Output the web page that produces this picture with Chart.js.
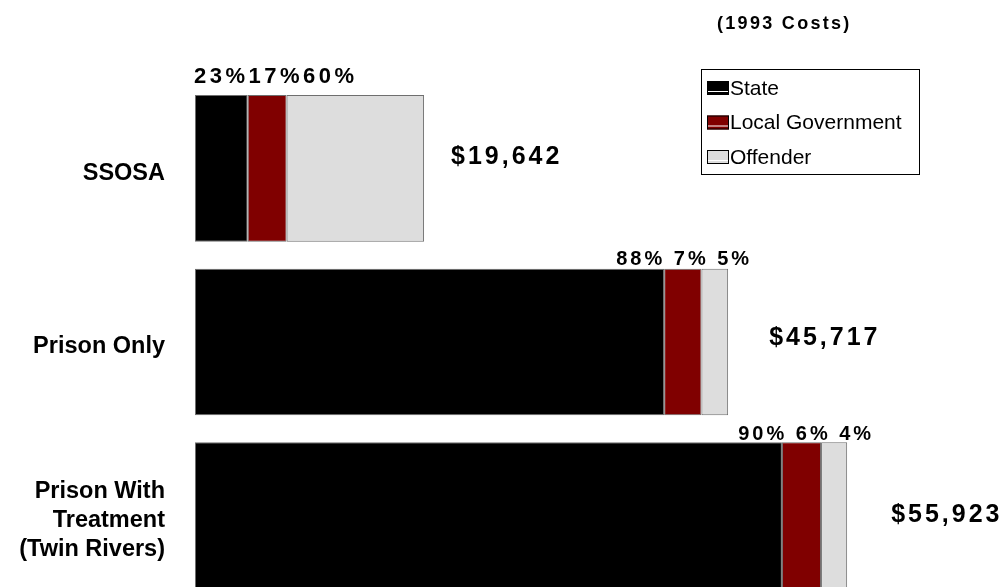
<!DOCTYPE html>
<html lang="en">
<head>
    <meta charset="UTF-8">
    <title>Cost per Case</title>
    <script src="https://cdn.jsdelivr.net/npm/chart.js"></script>
    <style>
        html, body { margin: 0; padding: 0; background: #fff; overflow: hidden; }
        #wrap { width: 1008px; height: 647px; }
    </style>
</head>
<body>
    <div id="wrap"><canvas id="costChart" width="1008" height="647"></canvas></div>
    <script>
        // sentencing options and total cost per case (1993 dollars)
        var categories = ['SSOSA', 'Prison Only', ['Prison With', 'Treatment', '(Twin Rivers)']];
        var totals = [19642, 45717, 55923];
        // share of each total paid by each party, in percent
        var statePct = [23, 88, 90];
        var localPct = [17, 7, 6];
        var offenderPct = [60, 5, 4];
        var seriesNames = ['State', 'Local Government', 'Offender'];

        function share(pcts) {
            return pcts.map(function (p, i) { return totals[i] * p / 100; });
        }

        var FONT = '"Liberation Sans", Arial, sans-serif';

        // percent labels over each bar and the dollar total beside it
        var barLabels = {
            id: 'barLabels',
            afterDatasetsDraw: function (chart, args, opts) {
                var ctx = chart.ctx;
                var x = chart.scales.x;
                var meta = chart.getDatasetMeta(0);
                ctx.save();
                ctx.fillStyle = '#000';
                totals.forEach(function (t, i) {
                    var bar = meta.data[i];
                    var top = bar.y - bar.height / 2;
                    var end = x.getPixelForValue(t);
                    var pct = [statePct[i], localPct[i], offenderPct[i]].map(function (p) { return p + '%'; });

                    ctx.textBaseline = 'alphabetic';
                    if (i === 0) {
                        ctx.font = 'bold 22px ' + FONT;
                        ctx.letterSpacing = '3.5px';
                        ctx.textAlign = 'left';
                        ctx.fillText(pct.join(''), x.getPixelForValue(0) - 1, top - 12);
                    } else {
                        ctx.font = 'bold 20px ' + FONT;
                        ctx.letterSpacing = '3px';
                        ctx.textAlign = 'right';
                        ctx.fillText(pct.join(' '), end + opts.pctOverhang[i], top - opts.pctLift[i]);
                    }

                    ctx.font = 'bold 25px ' + FONT;
                    ctx.letterSpacing = '3px';
                    ctx.textAlign = 'left';
                    ctx.textBaseline = 'middle';
                    ctx.fillText('$' + t.toLocaleString('en-US'), end + opts.totalGap[i], bar.y - opts.totalRise[i]);
                });
                ctx.restore();
            }
        };

        // boxed legend and the cost-year note
        var boxLegend = {
            id: 'boxLegend',
            afterDraw: function (chart, args, opts) {
                var ctx = chart.ctx;
                ctx.save();
                ctx.font = 'bold 18px ' + FONT;
                ctx.letterSpacing = '2.3px';
                ctx.fillStyle = '#000';
                ctx.textAlign = 'left';
                ctx.textBaseline = 'middle';
                ctx.fillText('(1993 Costs)', opts.noteX, opts.noteY);
                ctx.letterSpacing = '0px';

                var b = opts.box;
                ctx.fillStyle = '#fff';
                ctx.fillRect(b.x, b.y, b.w, b.h);
                ctx.strokeStyle = '#000';
                ctx.lineWidth = 1;
                ctx.strokeRect(b.x + 0.5, b.y + 0.5, b.w, b.h);

                ctx.font = '21px ' + FONT;
                chart.data.datasets.forEach(function (ds, k) {
                    var cy = b.y + 19 + k * 34.5;
                    ctx.fillStyle = ds.backgroundColor;
                    ctx.fillRect(b.x + 6, cy - 7, 22, 14);
                    ctx.strokeStyle = '#000';
                    ctx.strokeRect(b.x + 6.5, cy - 6.5, 21, 13);
                    ctx.fillStyle = '#fff';
                    ctx.fillRect(b.x + 7, cy + 3, 20, 1);
                    ctx.fillStyle = '#000';
                    ctx.fillText(ds.label, b.x + 29, cy + 1);
                });
                ctx.restore();
            }
        };

        var segStyle = { borderColor: '#6e6e6e', borderWidth: 1, borderSkipped: false };

        new Chart(document.getElementById('costChart'), {
            type: 'bar',
            data: {
                labels: categories,
                datasets: [
                    Object.assign({ label: seriesNames[0], data: share(statePct), backgroundColor: '#000000' }, segStyle),
                    Object.assign({ label: seriesNames[1], data: share(localPct), backgroundColor: '#800000' }, segStyle),
                    Object.assign({ label: seriesNames[2], data: share(offenderPct), backgroundColor: '#dddddd' }, segStyle)
                ]
            },
            options: {
                indexAxis: 'y',
                responsive: false,
                animation: false,
                layout: { padding: { top: 81.5, bottom: 43.5, left: 0, right: 55 } },
                datasets: { bar: { barPercentage: 0.845, categoryPercentage: 1 } },
                scales: {
                    x: { stacked: true, min: 0, max: 65000, display: false },
                    y: {
                        stacked: true,
                        grid: { display: false, drawTicks: false },
                        border: { display: false },
                        afterFit: function (s) { s.width = 195; },
                        ticks: {
                            color: '#000',
                            padding: 30,
                            labelOffset: 5,
                            font: { family: FONT, size: 23.5, weight: 'bold', lineHeight: '29px' }
                        }
                    }
                },
                plugins: {
                    legend: { display: false },
                    tooltip: { enabled: false },
                    barLabels: {
                        pctOverhang: [0, 24, 27],
                        pctLift: [0, 4, 2],
                        totalGap: [27, 41, 44],
                        totalRise: [11, 3.5, 0.5]
                    },
                    boxLegend: {
                        noteX: 717, noteY: 24,
                        box: { x: 701, y: 69, w: 218, h: 105 }
                    }
                }
            },
            plugins: [barLabels, boxLegend]
        });
    </script>
</body>
</html>
